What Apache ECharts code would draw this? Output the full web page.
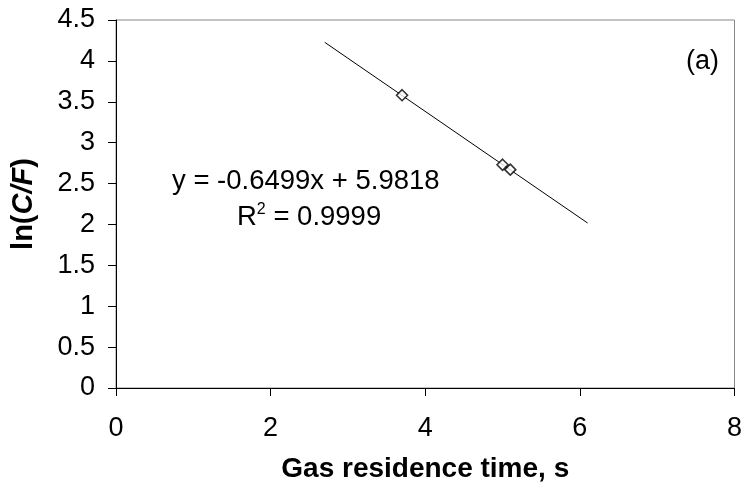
<!DOCTYPE html>
<html>
<head>
<meta charset="utf-8">
<script src="https://cdn.jsdelivr.net/npm/echarts@6/dist/echarts.min.js"></script>
<style>html,body{margin:0;padding:0;background:#fff;}#c{width:745px;height:488px;}</style>
</head>
<body>
<div id="c"></div>
<script>
// Data
var residenceTime = [3.7, 5.0, 5.1];
var lnCF = [3.58, 2.73, 2.67];
var fitSlope = -0.6499;
var fitIntercept = 5.9818;
var fitRange = [2.7, 6.1];
var equationText = 'y = -0.6499x + 5.9818';
var r2Text = '0.9999';
var panelLabel = '(a)';
var xTicks = [0, 2, 4, 6, 8];
var yTicks = [0, 0.5, 1, 1.5, 2, 2.5, 3, 3.5, 4, 4.5];

var FONT = 'Liberation Sans';
var pts = residenceTime.map(function (x, i) { return [x, lnCF[i]]; });
var fit = fitRange.map(function (x) { return [x, fitSlope * x + fitIntercept]; });

var chart = echarts.init(document.getElementById('c'));
chart.setOption({
  animation: false,
  backgroundColor: '#fff',
  grid: { left: 116, right: 8, top: 20, bottom: 99, show: true, borderColor: '#888', borderWidth: 1 },
  xAxis: {
    type: 'value', min: xTicks[0], max: xTicks[xTicks.length - 1], interval: 2,
    name: 'Gas residence time, s', nameLocation: 'middle', nameGap: 67,
    nameTextStyle: { fontFamily: FONT, fontSize: 28, fontWeight: 'bold', color: '#000' },
    axisLine: { lineStyle: { color: '#000', width: 1 } },
    axisTick: { length: 8, lineStyle: { color: '#000' } },
    axisLabel: { fontFamily: FONT, fontSize: 27, color: '#000', margin: 27 },
    splitLine: { show: false }
  },
  yAxis: {
    type: 'value', min: yTicks[0], max: yTicks[yTicks.length - 1], interval: 0.5,
    name: '{n|ln(}{i|C/F}{n|)}', nameLocation: 'middle', nameGap: 78, nameRotate: 90,
    nameTextStyle: {
      rich: {
        n: { fontFamily: FONT, fontSize: 29, fontWeight: 'bold', color: '#000' },
        i: { fontFamily: FONT, fontSize: 29, fontWeight: 'bold', fontStyle: 'italic', color: '#000' }
      }
    },
    axisLine: { show: true, lineStyle: { color: '#000', width: 1 } },
    axisTick: { show: true, length: 8, lineStyle: { color: '#000' } },
    axisLabel: { fontFamily: FONT, fontSize: 27, color: '#000', margin: 21 },
    splitLine: { show: false }
  },
  series: [
    {
      type: 'line', data: fit, symbol: 'none', silent: true,
      lineStyle: { color: '#000', width: 1 }, z: 2
    },
    {
      type: 'scatter', data: pts, symbol: 'diamond', symbolSize: 11,
      itemStyle: { color: '#fff', borderColor: '#000', borderWidth: 1.6 }, z: 3
    }
  ],
  graphic: [
    { type: 'text', x: 172, y: 181, style: { text: equationText, font: '27.5px "' + FONT + '"', fill: '#000', verticalAlign: 'middle' } },
    { type: 'text', x: 237, y: 217, style: {
        text: '{r|R}{s|2}{r| = ' + r2Text + '}', verticalAlign: 'middle',
        rich: {
          r: { fontFamily: FONT, fontSize: 27.5, color: '#000' },
          s: { fontFamily: FONT, fontSize: 16, color: '#000', verticalAlign: 'top', padding: [0, 0, 14, 0] }
        }
      } },
    { type: 'text', x: 686, y: 62, style: { text: panelLabel, font: '27px "' + FONT + '"', fill: '#000', verticalAlign: 'middle' } }
  ]
});
</script>
</body>
</html>
